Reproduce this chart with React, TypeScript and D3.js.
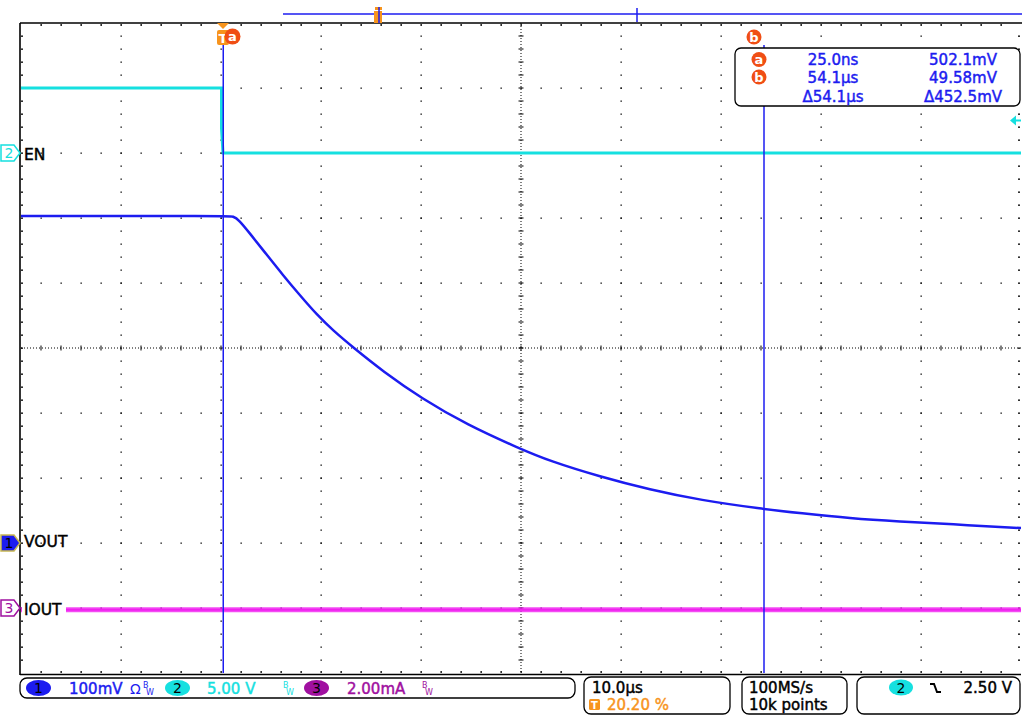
import React from "react";
import * as d3 from "d3";

// ---- data ----
// VOUT (channel 1), time in µs relative to trigger, value in mV
const VOUT_T = [-20.2, 0.5, 1.0, 1.6, 2.7, 4.4, 6.0, 7.7, 9.4, 11.0, 13.0, 16.0, 19.9, 24.4, 29.7, 32.7, 37.7, 42.7, 47.7, 54.1, 57.7, 62.7, 67.7, 72.7, 79.8];
const VOUT_MV = [503, 503, 503, 497, 476, 443, 412, 381, 351, 327, 301, 264, 222, 182, 145, 126, 102, 82, 66, 52, 46, 38, 33, 29, 23];
// EN (channel 2), V
const EN_T = [-20.2, -0.15, -0.15, 0.0, 0.1, 79.8];
const EN_V = [5.0, 5.0, 1.9, 0.0, 0.0, 0.0];
// IOUT (channel 3), mA
const IOUT_T = [-20.2, 79.8];
const IOUT_MA = [-0.05, -0.05];

const CHANNEL_LABELS = ["EN", "VOUT", "IOUT"];
const CURSOR_A = { t: "25.0ns", v: "502.1mV", tUs: 0.025 };
const CURSOR_B = { t: "54.1µs", v: "49.58mV", tUs: 54.1 };
const DELTA = { t: "Δ54.1µs", v: "Δ452.5mV" };
const SCALES = ["100mV", "5.00 V", "2.00mA"];
const TIMEBASE = "10.0µs";
const TRIG_POS = "20.20 %";
const SAMPLE = ["100MS/s", "10k points"];
const TRIG_LEVEL = "2.50 V";

// ---- layout ----
const L = 21, R = 1021, T = 23, B = 673;
const FONT = "DejaVu Sans";
const CYAN = "#16e0e0";
const BLUE = "#1c1cf0";
const MAG = "#f020f0";
const PURPLE = "#a010a0";
const ORANGE = "#f7941d";
const RED = "#f04e14";

const x = d3.scaleLinear().domain([-20.2, 79.8]).range([L, R]);
const yDiv = d3.scaleLinear().domain([-5, 5]).range([B, T]);
const y1 = (mv: number) => yDiv(-3 + mv / 100);
const y2 = (v: number) => yDiv(3 + v / 5);
const y3 = (ma: number) => yDiv(-4 + ma / 2);

function Grid() {
  const els: React.ReactNode[] = [];
  const vx = d3.range(1, 10).map((k) => L + k * 100);
  const hy = d3.range(1, 10).map((k) => T + k * 65);
  vx.forEach((gx, i) => {
    if (i === 4) return;
    d3.range(1, 50).forEach((j) => {
      els.push(<rect key={`v${i}-${j}`} x={gx - 0.5} y={T + j * 13 - 0.5} width={1.3} height={1.3} fill="#000" />);
    });
  });
  hy.forEach((gy, i) => {
    if (i === 4) return;
    d3.range(1, 50).forEach((j) => {
      els.push(<rect key={`h${i}-${j}`} x={L + j * 20 - 0.5} y={gy - 0.5} width={1.3} height={1.3} fill="#000" />);
    });
  });
  const cx = L + 500, cy = T + 325;
  els.push(<line key="ch" x1={L} x2={R} y1={cy} y2={cy} stroke="#000" strokeWidth={1} strokeDasharray="1 2" />);
  els.push(<line key="cv" x1={cx} x2={cx} y1={T} y2={B} stroke="#000" strokeWidth={1} strokeDasharray="1 2" />);
  d3.range(1, 50).forEach((j) => {
    const tx = L + j * 20;
    els.push(<line key={`cht${j}`} x1={tx} x2={tx} y1={cy - 2.5} y2={cy + 2.5} stroke="#000" strokeWidth={1} />);
    const ty = T + j * 13;
    els.push(<line key={`cvt${j}`} x1={cx - 2.5} x2={cx + 2.5} y1={ty} y2={ty} stroke="#000" strokeWidth={1} />);
  });
  d3.range(1, 50).forEach((j) => {
    const tx = L + j * 20;
    els.push(<rect key={`tt${j}`} x={tx - 0.5} y={T + 1} width={1.3} height={2} fill="#000" />);
    els.push(<rect key={`bt${j}`} x={tx - 0.5} y={B - 2} width={1.3} height={2} fill="#000" />);
    const ty = T + j * 13;
    els.push(<rect key={`lt${j}`} x={L} y={ty - 0.5} width={2} height={1.3} fill="#000" />);
    els.push(<rect key={`rt${j}`} x={R - 3} y={ty - 0.5} width={2} height={1.3} fill="#000" />);
  });
  els.push(<line key="btop" x1={L - 1} x2={R + 1} y1={T} y2={T} stroke="#000" strokeWidth={1.6} />);
  els.push(<line key="bleft" x1={L - 1} x2={L - 1} y1={T} y2={B + 2} stroke="#000" strokeWidth={1.6} />);
  els.push(<line key="bbot" x1={L - 1} x2={R} y1={B + 1.5} y2={B + 1.5} stroke="#000" strokeWidth={1.6} />);
  return <g>{els}</g>;
}

function ChMarker({ yy, num, fill, stroke, text }: { yy: number; num: string; fill: string; stroke: string; text: string }) {
  const p = `M1,${yy - 8} H14 L20,${yy} L14,${yy + 8} H1 Z`;
  return (
    <g>
      <path d={p} fill={fill} stroke={stroke} strokeWidth={1.5} />
      <text x={9} y={yy + 5} textAnchor="middle" fontFamily={FONT} fontSize={14} fill={text}>{num}</text>
    </g>
  );
}

function BW({ x0, color }: { x0: number; color: string }) {
  return (
    <g fontFamily={FONT} fill={color}>
      <text x={x0} y={688} fontSize={8}>B</text>
      <text x={x0 + 3} y={695} fontSize={8}>W</text>
    </g>
  );
}

const TXT = { fontFamily: FONT, fontSize: 15, strokeWidth: 0.45 } as const;

export default function App() {
  const line = d3.line<[number, number]>().curve(d3.curveBasis);
  const voutPts = VOUT_T.map((t, i) => [x(t), y1(VOUT_MV[i])] as [number, number]);
  const enPts = EN_T.map((t, i) => [x(t), y2(EN_V[i])] as [number, number]);
  const ioutPts = IOUT_T.map((t, i) => [x(t), y3(IOUT_MA[i])] as [number, number]);
  const straight = d3.line<[number, number]>();

  const xa = x(CURSOR_A.tUs);
  const xb = x(CURSOR_B.tUs);
  const xTrig = x(0);

  return (
    <svg width={1024} height={720} style={{ position: "absolute", left: 0, top: 0, background: "#fff" }}>
      <rect x={0} y={0} width={1024} height={720} fill="#fff" />
      <Grid />

      {/* traces */}
      <path d={straight(ioutPts) || ""} fill="none" stroke={MAG} strokeWidth={5} strokeOpacity={0.8} />
      <path d={straight(ioutPts) || ""} fill="none" stroke={MAG} strokeWidth={2} />
      <path d={straight(enPts) || ""} fill="none" stroke={CYAN} strokeWidth={3} />
      <path d={line(voutPts) || ""} fill="none" stroke={BLUE} strokeWidth={2.5} />

      {/* cursors */}
      <line x1={xa} x2={xa} y1={45} y2={B} stroke={BLUE} strokeWidth={1.5} />
      <line x1={xb} x2={xb} y1={45} y2={B} stroke={BLUE} strokeWidth={1.5} />

      {/* channel labels */}
      <rect x={L + 1} y={598} width={44} height={20} fill="#fff" />
      <g {...TXT} fontSize={15.5} fill="#000" stroke="#000">
        <text x={24} y={160}>{CHANNEL_LABELS[0]}</text>
        <text x={24} y={547}>{CHANNEL_LABELS[1]}</text>
        <text x={24} y={615}>{CHANNEL_LABELS[2]}</text>
      </g>
      <ChMarker yy={y2(0)} num="2" fill="#fff" stroke={CYAN} text={CYAN} />
      <ChMarker yy={y1(0)} num="1" fill={BLUE} stroke="#c8b850" text="#000" />
      <ChMarker yy={y3(0)} num="3" fill="#fff" stroke={PURPLE} text={PURPLE} />

      {/* trigger level arrow */}
      <path d={`M1010,${y2(2.5)} L1016,${y2(2.5) - 5} L1016,${y2(2.5) + 5} Z`} fill={CYAN} />
      <line x1={1014} x2={1021} y1={y2(2.5)} y2={y2(2.5)} stroke={CYAN} strokeWidth={2} />

      {/* record overview */}
      <line x1={283} x2={1022} y1={14} y2={14} stroke={BLUE} strokeWidth={1.5} />
      <line x1={637} x2={637} y1={8} y2={22} stroke={BLUE} strokeWidth={1.5} />
      <rect x={374} y={11} width={8} height={12} fill={ORANGE} />
      <rect x={375} y={7} width={7} height={3} fill={ORANGE} />
      <line x1={379} x2={379} y1={7} y2={23} stroke={BLUE} strokeWidth={1.5} />

      {/* trigger marker */}
      <path d={`M${xTrig - 6},${T} L${xTrig + 6},${T} L${xTrig},${T + 6} Z`} fill={ORANGE} />
      <rect x={xTrig - 6} y={30} width={12} height={15} rx={2} fill={ORANGE} />
      <text x={xTrig} y={43} textAnchor="middle" fontFamily={FONT} fontSize={13} fontWeight="bold" fill="#fff">T</text>
      <circle cx={xTrig + 9.5} cy={36.5} r={8} fill={RED} />
      <text x={xTrig + 9.5} y={41} textAnchor="middle" fontFamily={FONT} fontSize={13} fontWeight="bold" fill="#fff">a</text>
      <circle cx={xb - 10} cy={37} r={7.5} fill={RED} />
      <text x={xb - 10} y={41.5} textAnchor="middle" fontFamily={FONT} fontSize={13} fontWeight="bold" fill="#fff">b</text>

      {/* readout box */}
      <rect x={735} y={48} width={285} height={58} rx={6} fill="#fff" stroke="#000" strokeWidth={1.3} />
      <circle cx={759} cy={59.5} r={7.5} fill={RED} />
      <text x={759} y={64} textAnchor="middle" fontFamily={FONT} fontSize={13} fontWeight="bold" fill="#fff">a</text>
      <circle cx={759} cy={77} r={7.5} fill={RED} />
      <text x={759} y={81.5} textAnchor="middle" fontFamily={FONT} fontSize={13} fontWeight="bold" fill="#fff">b</text>
      <g {...TXT} fill={BLUE} stroke={BLUE} textAnchor="middle">
        <text x={833} y={65}>{CURSOR_A.t}</text>
        <text x={963} y={65}>{CURSOR_A.v}</text>
        <text x={833} y={83}>{CURSOR_B.t}</text>
        <text x={963} y={83}>{CURSOR_B.v}</text>
        <text x={833} y={102}>{DELTA.t}</text>
        <text x={963} y={102}>{DELTA.v}</text>
      </g>

      {/* status bar */}
      <rect x={20} y={678} width={555} height={20} rx={7} fill="#fff" stroke="#000" strokeWidth={1.3} />
      <ellipse cx={38.5} cy={688} rx={12.5} ry={8} fill={BLUE} />
      <text x={38.5} y={693} textAnchor="middle" fontFamily={FONT} fontSize={14} fill="#000">1</text>
      <text {...TXT} x={69} y={694} fill={BLUE} stroke={BLUE}>{SCALES[0]}</text>
      <text x={130} y={694} fontFamily={FONT} fontSize={14} fill={BLUE}>Ω</text>
      <BW x0={143} color={BLUE} />
      <ellipse cx={177.5} cy={688} rx={12.5} ry={8} fill={CYAN} />
      <text x={177.5} y={693} textAnchor="middle" fontFamily={FONT} fontSize={14} fill="#000">2</text>
      <text {...TXT} x={207} y={694} fill={CYAN} stroke={CYAN}>{SCALES[1]}</text>
      <BW x0={283} color={CYAN} />
      <ellipse cx={316.5} cy={688} rx={12.5} ry={8} fill={PURPLE} />
      <text x={316.5} y={693} textAnchor="middle" fontFamily={FONT} fontSize={14} fill="#000">3</text>
      <text {...TXT} x={347} y={694} fill={PURPLE} stroke={PURPLE}>{SCALES[2]}</text>
      <BW x0={422} color={PURPLE} />

      <rect x={584} y={677} width={146} height={37} rx={7} fill="#fff" stroke="#000" strokeWidth={1.3} />
      <text {...TXT} x={592} y={693} fill="#000" stroke="#000">{TIMEBASE}</text>
      <rect x={589} y={699} width={11} height={11} rx={1.5} fill={ORANGE} />
      <text x={594.5} y={708.5} textAnchor="middle" fontFamily={FONT} fontSize={10} fontWeight="bold" fill="#fff">T</text>
      <text {...TXT} x={607} y={710} fill={ORANGE} stroke={ORANGE}>{TRIG_POS}</text>

      <rect x={742} y={677} width={105} height={37} rx={7} fill="#fff" stroke="#000" strokeWidth={1.3} />
      <text {...TXT} x={749} y={693} fill="#000" stroke="#000">{SAMPLE[0]}</text>
      <text {...TXT} x={749} y={710} fill="#000" stroke="#000">{SAMPLE[1]}</text>

      <rect x={857} y={677} width={163} height={37} rx={7} fill="#fff" stroke="#000" strokeWidth={1.3} />
      <ellipse cx={901} cy={687.5} rx={12} ry={8} fill={CYAN} />
      <text x={901} y={692.5} textAnchor="middle" fontFamily={FONT} fontSize={14} fill="#000">2</text>
      <path d="M930,684 H934 L937,692 H941" fill="none" stroke="#000" strokeWidth={2} />
      <text {...TXT} x={1012} y={693} textAnchor="end" fill="#000" stroke="#000">{TRIG_LEVEL}</text>
    </svg>
  );
}
